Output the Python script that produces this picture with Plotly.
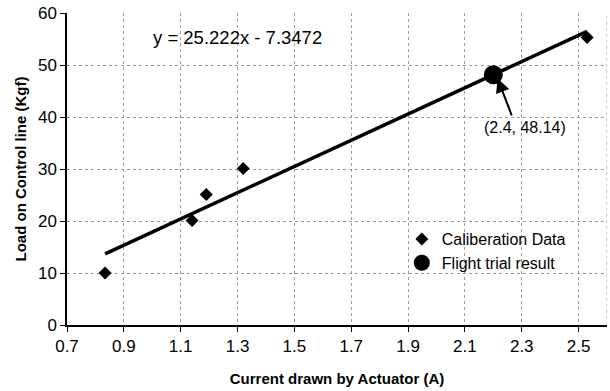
import plotly.graph_objects as go

# Data
calib_x = [0.834, 1.14, 1.19, 1.32, 2.53]
calib_y = [10, 20.1, 25.1, 30.1, 55.3]
flight_x = [2.2]
flight_y = [48.14]
slope = 25.222
intercept = -7.3472
trend_x = [0.834, 2.53]
x_ticks = [0.7, 0.9, 1.1, 1.3, 1.5, 1.7, 1.9, 2.1, 2.3, 2.5]
y_ticks = [0, 10, 20, 30, 40, 50, 60]

trend_y = [slope * x + intercept for x in trend_x]

FONT = "Liberation Sans, Arial, sans-serif"

fig = go.Figure()
fig.add_trace(go.Scatter(x=trend_x, y=trend_y, mode="lines",
                         line=dict(color="black", width=3.5), showlegend=False,
                         hoverinfo="skip"))
fig.add_trace(go.Scatter(x=calib_x, y=calib_y, mode="markers", name="Caliberation Data",
                         marker=dict(symbol="diamond", size=10, color="black")))
fig.add_trace(go.Scatter(x=flight_x, y=flight_y, mode="markers", name="Flight trial result",
                         marker=dict(symbol="circle", size=19, color="black")))

grid = dict(showgrid=True, gridcolor="#9a9a9a", griddash="dot", gridwidth=1)
fig.update_xaxes(range=[0.7, 2.6], tickvals=x_ticks, ticktext=[f"{v:.1f}" for v in x_ticks],
                 showline=True, linecolor="black", linewidth=1.5,
                 ticks="outside", ticklen=5, tickcolor="black", zeroline=False,
                 tickfont=dict(family=FONT, size=17, color="black"),
                 title=dict(text="<b>Current drawn by Actuator (A)</b>",
                            font=dict(family=FONT, size=15, color="black"), standoff=18),
                 **grid)
fig.update_yaxes(range=[0, 60], tickvals=y_ticks,
                 showline=True, linecolor="black", linewidth=1.5,
                 ticks="outside", ticklen=5, tickcolor="black", zeroline=False,
                 tickfont=dict(family=FONT, size=17, color="black"),
                 title=dict(text="<b>Load on Control line (Kgf)</b>",
                            font=dict(family=FONT, size=15, color="black"), standoff=8),
                 **grid)

fig.add_shape(type="line", xref="x", yref="paper", x0=2.6, x1=2.6, y0=0, y1=1,
              line=dict(color="#9a9a9a", width=1, dash="dot"))

fig.add_annotation(x=0.995, y=55.2, xref="x", yref="y", text="y = 25.222x - 7.3472",
                   showarrow=False, xanchor="left", yanchor="middle",
                   font=dict(family=FONT, size=18.5, color="black"))
fig.add_annotation(x=2.215, y=47.4, ax=2.267, ay=40.0, xref="x", yref="y", axref="x", ayref="y",
                   text="", showarrow=True, arrowhead=2, arrowsize=1.4, arrowwidth=2,
                   arrowcolor="black")
fig.add_annotation(x=2.31, y=40.0, xref="x", yref="y", text="(2.4, 48.14)",
                   showarrow=False, xanchor="center", yanchor="top",
                   font=dict(family=FONT, size=16, color="black"))

fig.update_layout(width=610, height=391, margin=dict(l=67, r=3, t=13, b=66),
                  paper_bgcolor="white", plot_bgcolor="white",
                  legend=dict(x=0.62, y=0.33, xanchor="left", yanchor="top",
                              bgcolor="rgba(0,0,0,0)", tracegroupgap=0, itemwidth=30,
                              font=dict(family=FONT, size=16, color="black")))

fig.write_html("out.html")
